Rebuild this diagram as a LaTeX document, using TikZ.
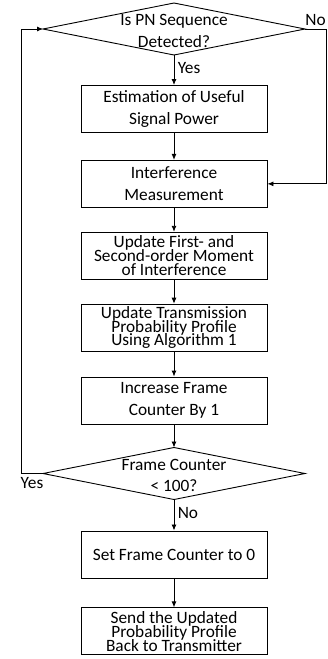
\documentclass[tikz,border=0pt]{standalone}
\usepackage{fontspec}
\setmainfont{Carlito}
\usetikzlibrary{arrows.meta, positioning, shapes.geometric}

\begin{document}
\begin{tikzpicture}[x=1pt, y=1pt, node distance=26pt,
  txt/.style={font={\fontsize{17.3pt}{21.5pt}\selectfont}},
  box/.style={draw, line width=0.9pt, minimum width=186pt, minimum height=47pt, align=center, inner sep=2pt, txt},
  tightbox/.style={box, inner sep=0pt, font={\fontsize{17.3pt}{13.8pt}\selectfont\lineskiplimit=-50pt}},
  decision/.style={draw, line width=0.9pt, diamond, aspect=5, inner sep=0pt, outer sep=0pt, minimum width=262pt, minimum height=52pt},
  flow/.style={-{Latex[length=6pt, width=5pt]}, line width=0.9pt}]
\useasboundingbox (0,0) rectangle (328,-659);

\node (det) [decision] at (174,-29) {};
\node (dettxt) [txt, align=center] at (174,-31) {Is PN Sequence\\Detected?};
\node (est) [below=30pt of det, box] {Estimation of Useful\\Signal Power};
\node (meas) [below=27pt of est, box] {Interference\\Measurement};
\node (mom) [below=24pt of meas, tightbox] {Update First- and\\Second-order Moment\\of Interference};
\node (prof) [below=24pt of mom, tightbox] {Update Transmission\\Probability Profile\\Using Algorithm 1};
\node (inc) [below=25pt of prof, box] {Increase Frame\\Counter By 1};
\node (cnt) [below=23pt of inc, decision] {};
\node (cnttxt) [txt, align=center] at ([yshift=-2pt]cnt.center) {Frame Counter\\< 100?};
\node (rst) [below=31pt of cnt, box] {Set Frame Counter to 0};
\node (send) [below=29pt of rst, tightbox] {Send the Updated\\Probability Profile\\Back to Transmitter};

\draw[flow] (det) -- node[right, pos=0.42, txt] {Yes} (est);
\draw[flow] (est) -- (meas);
\draw[flow] (meas) -- (mom);
\draw[flow] (mom) -- (prof);
\draw[flow] (prof) -- (inc);
\draw[flow] (inc) -- (cnt);
\draw[flow] (cnt) -- node[right, pos=0.42, txt] {No} (rst);
\draw[flow] (rst) -- (send);
\draw[flow] (det.east) -- node[above, txt] {No} ++(21,0) |- (meas.east);
\draw[flow] (cnt.west) -- node[below, txt] {Yes} ++(-22,0) |- (det.west);
\end{tikzpicture}
\end{document}
